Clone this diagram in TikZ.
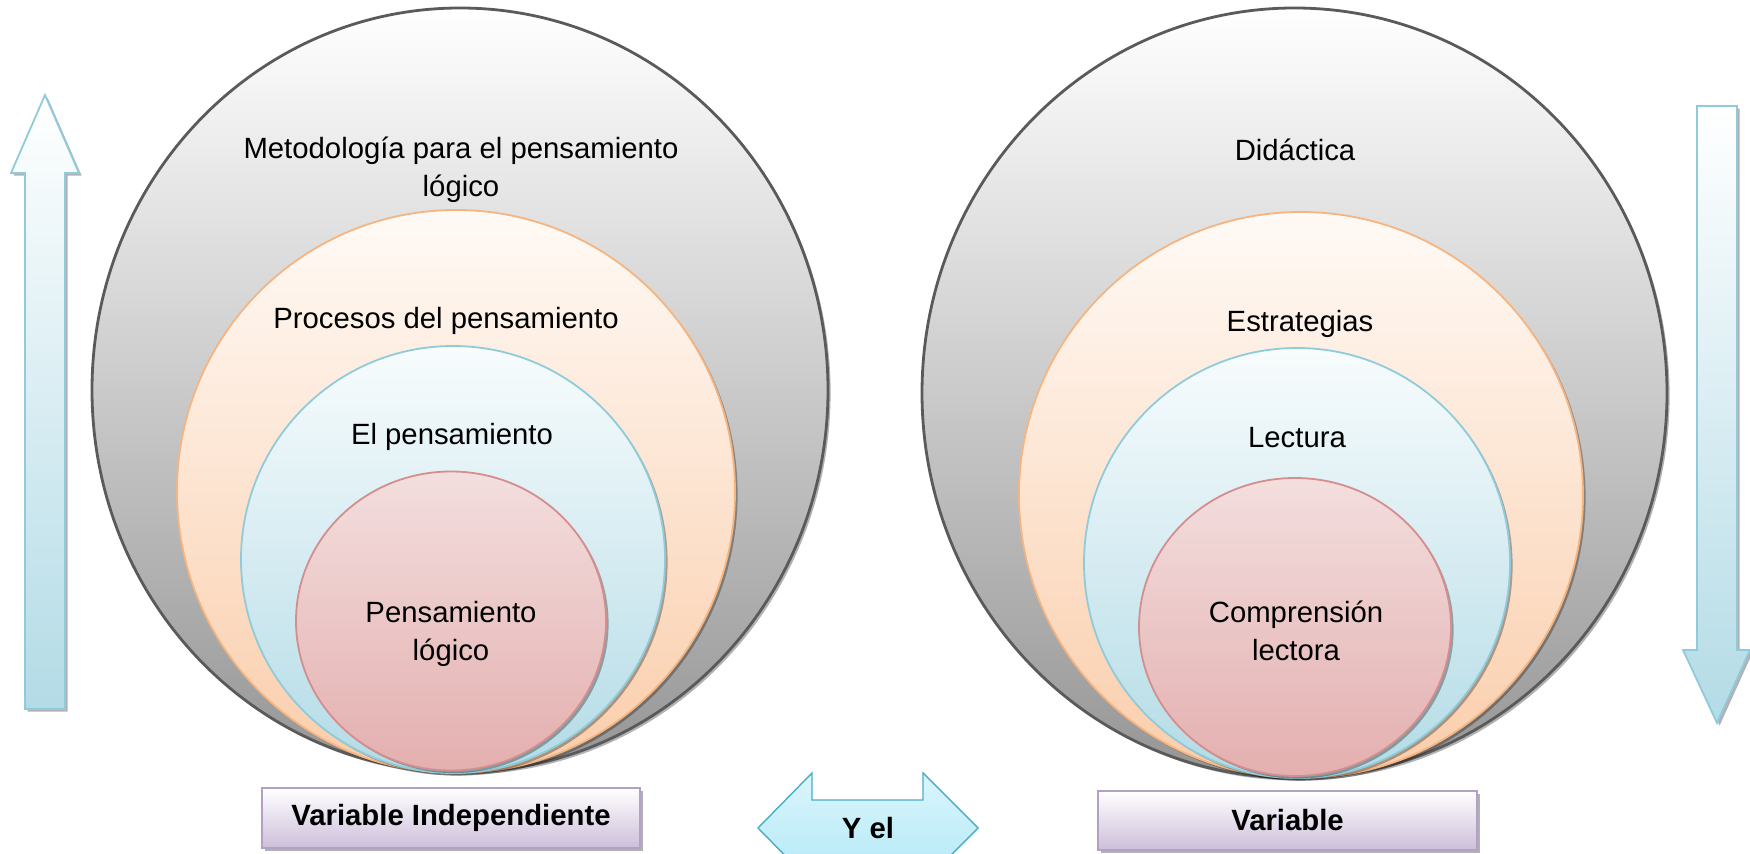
\documentclass[tikz,border=0pt]{standalone}
\usepackage{fontspec}
\setmainfont{Liberation Sans}
\usetikzlibrary{shadows}
\definecolor{outerline}{HTML}{5A5A5A}
\definecolor{outerbot}{HTML}{959595}
\definecolor{orgline}{HTML}{F6B580}
\definecolor{orgtop}{HTML}{FFFAF6}
\definecolor{orgbot}{HTML}{FACDAA}
\definecolor{bluline}{HTML}{8FCBDB}
\definecolor{blutop}{HTML}{F8FCFD}
\definecolor{blubot}{HTML}{B3DBE6}
\definecolor{pnkline}{HTML}{D48E8D}
\definecolor{pnktop}{HTML}{F3DEDE}
\definecolor{pnkbot}{HTML}{E4AFAF}
\definecolor{boxline}{HTML}{B2A1C7}
\definecolor{boxbot}{HTML}{CDBEDA}
\definecolor{dblline}{HTML}{4BACC6}
\definecolor{dbltop}{HTML}{DAF6FD}
\definecolor{dblbot}{HTML}{B2E8F6}
\begin{document}
\begin{tikzpicture}[x=0.5pt,y=-0.5pt,
  shad/.style={drop shadow={shadow xshift=1.3pt,shadow yshift=-1.3pt,opacity=0.3,fill=black}},
  outerc/.style={draw=outerline,line width=1.4pt,top color=white,bottom color=outerbot,shad},
  orgc/.style={draw=orgline,line width=0.9pt,top color=orgtop,bottom color=orgbot,shad},
  bluc/.style={draw=bluline,line width=0.9pt,top color=blutop,bottom color=blubot,shad},
  pnkc/.style={draw=pnkline,line width=0.9pt,top color=pnktop,bottom color=pnkbot,shad},
  bigarrow/.style={draw=bluline,line width=0.9pt,top color=white,bottom color=blubot,shad},
  lbl/.style={font=\fontsize{14.65}{19}\selectfont,align=center,inner sep=0pt},
  vbox/.style={draw=boxline,line width=0.9pt,top color=white,bottom color=boxbot,shad,
    font=\bfseries\fontsize{14.65}{19}\selectfont,inner sep=0pt},
]
\useasboundingbox (0,0) rectangle (1750,854);
\clip (0,0) rectangle (1750,854);

% left set of circles
\path[outerc] (460,390) ellipse [x radius=368, y radius=382];
\path[orgc] (456,491.5) ellipse [x radius=279, y radius=281.5];
\path[bluc] (453,559.5) ellipse [x radius=212, y radius=213.5];
\path[pnkc] (451,621) ellipse [x radius=155, y radius=149.5];

% right set of circles
\path[outerc] (1294.5,393) ellipse [x radius=372.5, y radius=385];
\path[orgc] (1301,495) ellipse [x radius=282, y radius=283];
\path[bluc] (1297,563) ellipse [x radius=213, y radius=215];
\path[pnkc] (1295,627) ellipse [x radius=156, y radius=149];

% labels left
\node[lbl] (met) at (461,170) {Metodología para el pensamiento\\lógico};
\node[lbl] (proc) at (446,321) {Procesos del pensamiento};
\node[lbl] (pens) at (452,437) {El pensamiento};
\node[lbl] (plog) at (451,634) {Pensamiento\\lógico};

% labels right
\node[lbl] (did) at (1295,150) {Didáctica};
\node[lbl] (est) at (1300,324) {Estrategias};
\node[lbl] (lec) at (1297,438) {Lectura};
\node[lbl] (comp) at (1296,631) {Comprensión\\lectora};

% vertical arrows
\path[bigarrow] (45,95) -- (79,173) -- (65,173) -- (65,709) -- (25,709) -- (25,173) -- (11,173) -- cycle;
\path[bigarrow] (1717,723) -- (1750,650) -- (1737,650) -- (1737,106) -- (1697,106) -- (1697,650) -- (1683,650) -- cycle;

% bottom boxes
\node[vbox,minimum width=189pt,minimum height=30pt] (vi) at (451,818) {Variable Independiente};
\node[vbox,minimum width=189.5pt,minimum height=29.5pt] (vd) at (1287.5,820.5) {Variable};

% double arrow
\path[draw=dblline,line width=0.7pt,top color=dbltop,bottom color=dblbot]
  (758,828) -- (812,773) -- (812,800) -- (923,800) -- (923,773) -- (978,828)
  -- (923,883) -- (923,856) -- (812,856) -- (812,883) -- cycle;
\node[lbl,font=\bfseries\fontsize{14.65}{19}\selectfont] (yel) at (868,828) {Y el};
\end{tikzpicture}
\end{document}
